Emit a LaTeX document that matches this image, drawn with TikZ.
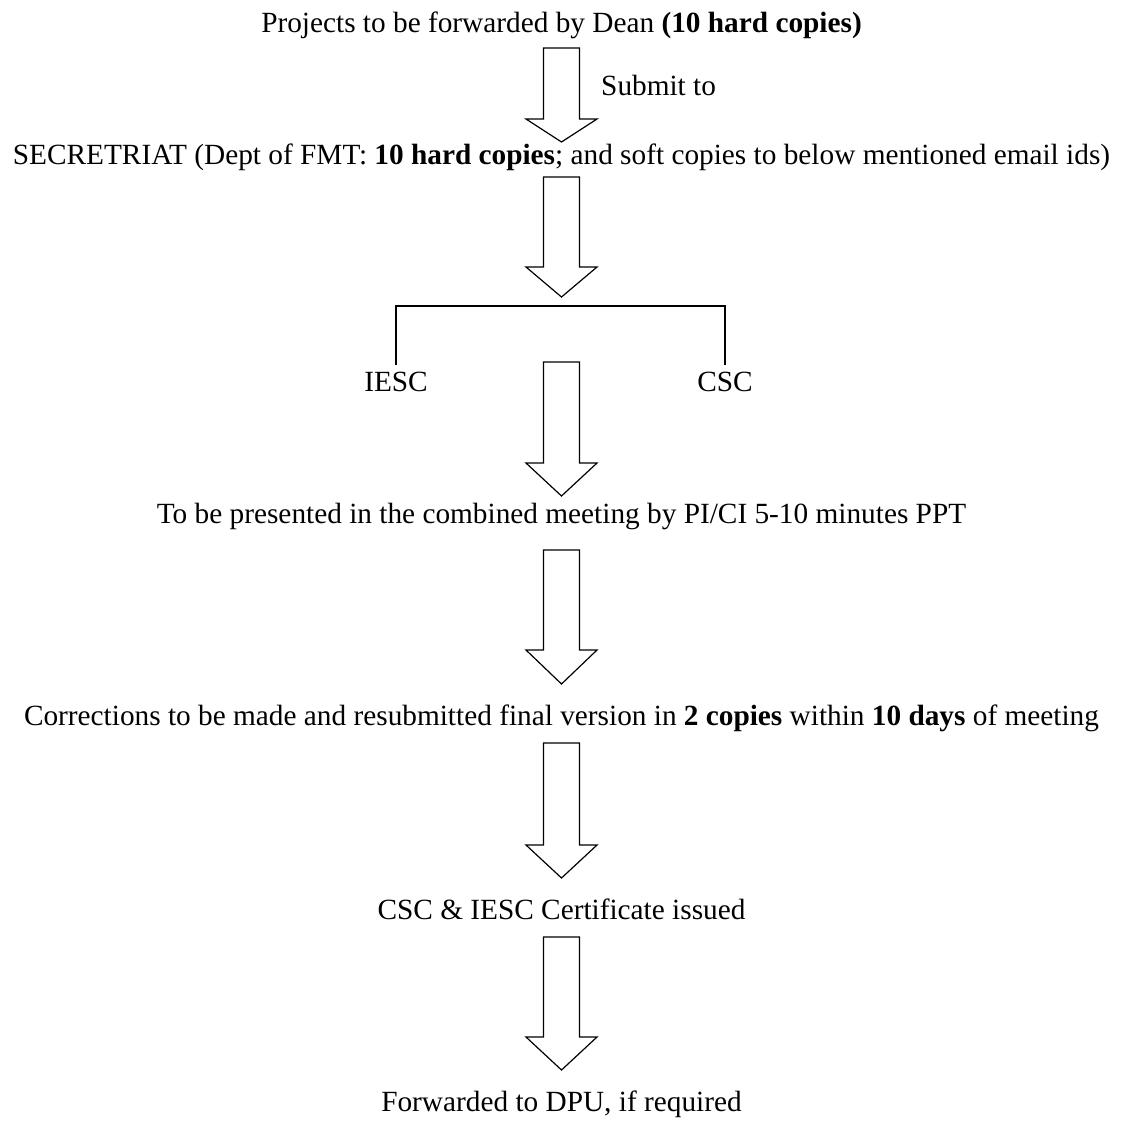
\documentclass[tikz,border=0pt]{standalone}
\usepackage{fontspec}
\setmainfont{Liberation Serif}
\begin{document}
\begin{tikzpicture}[x=1pt,y=-1pt,
  lbl/.style={font=\fontsize{29.3}{35}\selectfont, inner sep=0pt, anchor=base},
  blk/.style={draw=black, line width=1.2pt, fill=white, line join=miter}]
\useasboundingbox (0,0) rectangle (1123,1122);
% block arrow: center x, top, head base, tip
\newcommand{\blockarr}[4]{%
  \draw[blk] (#1-18,#2) -- (#1+18,#2) -- (#1+18,#3) -- (#1+35.5,#3) -- (#1,#4)
     -- (#1-35.5,#3) -- (#1-18,#3) -- cycle;}
\node[lbl] (t1) at (561.5,32) {Projects to be forwarded by Dean \textbf{(10 hard copies)}};
\node[lbl, anchor=base west] (sub) at (601,95) {Submit to};
\node[lbl] (t2) at (561.5,164) {SECRETRIAT (Dept of FMT: \textbf{10 hard copies}; and soft copies to below mentioned email ids)};
\node[lbl] (iesc) at (396,391) {IESC};
\node[lbl] (csc) at (725,391) {CSC};
\node[lbl] (t3) at (561.5,523) {To be presented in the combined meeting by PI/CI 5-10 minutes PPT};
\node[lbl] (t4) at (561.5,725) {Corrections to be made and resubmitted final version in \textbf{2 copies} within \textbf{10 days} of meeting};
\node[lbl] (t5) at (561.5,919) {CSC \& IESC Certificate issued};
\node[lbl] (t6) at (561.5,1111) {Forwarded to DPU, if required};
\blockarr{561.5}{48}{119}{142}
\blockarr{561.5}{177}{267}{297}
\draw[line width=1.2pt] (396,365) -- (396,306) -- (725,306) -- (725,365);
\blockarr{561.5}{362}{463}{496}
\blockarr{561.5}{550}{650}{684}
\blockarr{561.5}{743}{845}{878}
\blockarr{561.5}{937}{1037}{1070}
\end{tikzpicture}
\end{document}
